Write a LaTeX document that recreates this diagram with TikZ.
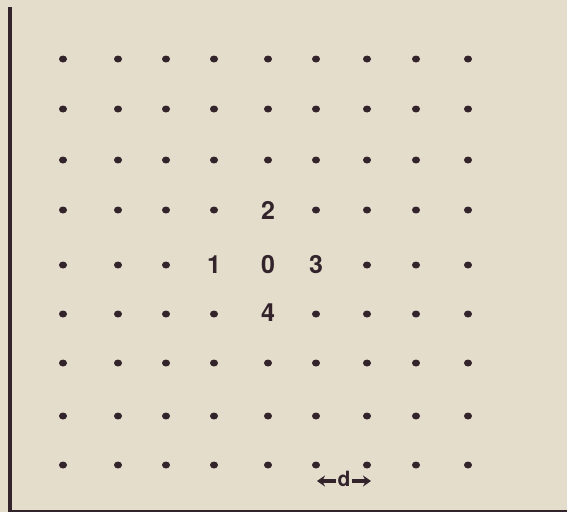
\documentclass[tikz,border=0pt]{standalone}
\usepackage{fontspec}
\setmainfont{TeX Gyre Heros}
\usetikzlibrary{arrows.meta,shapes.geometric}
\definecolor{paper}{HTML}{E5DDCC}
\definecolor{ink}{HTML}{33232B}
\tikzset{
  dotnode/.style={ellipse,fill=ink,inner sep=0pt,minimum width=8pt,minimum height=7pt},
  digit/.style={text=ink,inner sep=0pt,font=\fontsize{25}{30}\selectfont\bfseries},
  dlabel/.style={text=ink,inner sep=1.5pt,font=\fontsize{21}{24}\selectfont\bfseries},
  darrow/.style={draw=ink,line width=3.6pt,-{Stealth[length=8pt,width=11pt]}}
}
\begin{document}
\begin{tikzpicture}[x=1pt,y=-1pt]
\fill[paper] (0,0) rectangle (567,512);
\useasboundingbox (0,0) rectangle (567,512);
\draw[ink,line width=3.5pt] (10,7) -- (10,512);
\draw[ink,line width=1.5pt] (10,511) -- (567,511);
\foreach \i/\x in {0/63,1/118,2/166,3/214,4/268,5/316,6/367,7/416,8/468}{
  \foreach \j/\y in {0/59,1/109,2/160,3/210,4/265,5/314,6/363,7/416,8/465}{
    \def\skip{0}
    \ifnum\i=4 \ifnum\j=3 \def\skip{1}\fi\ifnum\j=4 \def\skip{1}\fi\ifnum\j=5 \def\skip{1}\fi\fi
    \ifnum\j=4 \ifnum\i=3 \def\skip{1}\fi\ifnum\i=5 \def\skip{1}\fi\fi
    \ifnum\skip=0 \node[dotnode] (p\i\j) at (\x,\y) {};\fi
  }
}
\node[digit] (n2) at (268,210) {2};
\node[digit] (n1) at (214,265) {1};
\node[digit] (n0) at (268,265) {0};
\node[digit] (n3) at (316,265) {3};
\node[digit] (n4) at (268,313) {4};
\node[dlabel] (d) at (344,479) {d};
\coordinate (dl) at (317,481);
\coordinate (dr) at (371,481);
\draw[darrow] (d.west |- dl) -- (dl);
\draw[darrow] (d.east |- dr) -- (dr);
\end{tikzpicture}
\end{document}
